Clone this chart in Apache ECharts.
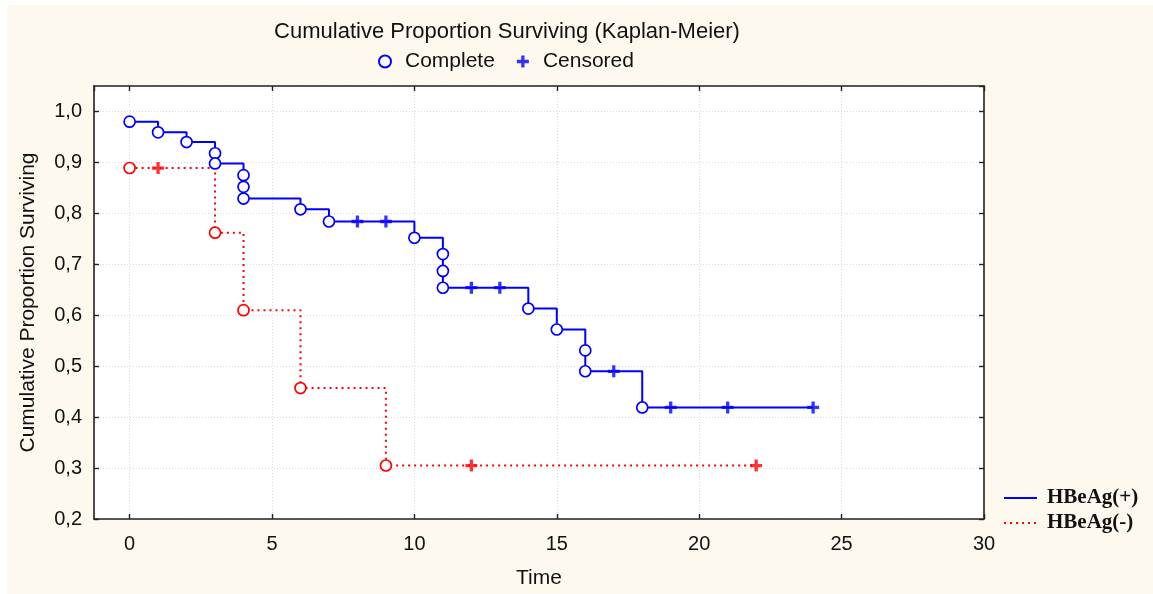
<!DOCTYPE html>
<html>
<head>
<meta charset="utf-8">
<title>Cumulative Proportion Surviving (Kaplan-Meier)</title>
<script src="https://cdn.jsdelivr.net/npm/echarts@6/dist/echarts.min.js"></script>
<style>
  html, body { margin: 0; padding: 0; background: #ffffff; width: 1153px; height: 594px; overflow: hidden; }
  #chart { position: absolute; left: 7px; top: 5px; width: 1146px; height: 589px; background: #FEF9EE; }
</style>
</head>
<body>
<div id="chart"></div>
<script>
// HBeAg(+) group: time, survival estimate, status (1 = complete, 0 = censored)
const posTime   = [0, 1, 2, 3, 3, 4, 4, 4, 6, 7, 8, 9, 10, 11, 11, 11, 12, 13, 14, 15, 16, 16, 17, 18, 19, 21, 24];
const posSurv   = [0.980, 0.959, 0.940, 0.918, 0.898, 0.875, 0.852, 0.829, 0.808, 0.784, 0.784, 0.784, 0.752,
                   0.720, 0.687, 0.654, 0.654, 0.654, 0.613, 0.572, 0.531, 0.490, 0.490, 0.419, 0.419, 0.419, 0.419];
const posStatus = [1, 1, 1, 1, 1, 1, 1, 1, 1, 1, 0, 0, 1, 1, 1, 1, 0, 0, 1, 1, 1, 1, 0, 1, 0, 0, 0];

// HBeAg(-) group
const negTime   = [0, 1, 3, 4, 6, 9, 12, 22];
const negSurv   = [0.889, 0.889, 0.762, 0.610, 0.457, 0.305, 0.305, 0.305];
const negStatus = [1, 0, 1, 1, 1, 1, 0, 0];

// Tick labels
const xTickLabels = ['0', '5', '10', '15', '20', '25', '30'];
const yTickLabels = ['0,2', '0,3', '0,4', '0,5', '0,6', '0,7', '0,8', '0,9', '1,0'];

const BLUE = '#0000FF';
const RED = '#FF0000';
const PLUS = 'path://M4,0h3v11h-3z M0,4h11v3h-11z';

function points(times, surv) {
  return times.map((t, i) => [t, surv[i]]);
}
function pick(times, surv, status, flag) {
  const out = [];
  times.forEach((t, i) => { if (status[i] === flag) out.push([t, surv[i]]); });
  return out;
}

const chart = echarts.init(document.getElementById('chart'), null, { renderer: 'canvas' });

const axisFont = { fontFamily: 'Liberation Sans, Arial, sans-serif', fontSize: 20, color: '#111' };
const frameLine = { show: true, onZero: false, lineStyle: { color: '#222', width: 1.6 } };
const innerTick = { show: true, inside: true, length: 5, lineStyle: { color: '#222', width: 1.4 } };
const gridLine = { show: true, lineStyle: { color: '#d9d9d9', type: [1, 2], width: 1 } };

const option = {
  animation: false,
  title: {
    text: 'Cumulative Proportion Surviving (Kaplan-Meier)',
    left: 500,
    top: 16,
    padding: 0,
    textAlign: 'center',
    textStyle: { fontFamily: 'Liberation Sans, Arial, sans-serif', fontSize: 22, fontWeight: 'normal', color: '#111' }
  },
  legend: [
    {
      data: ['Complete', 'Censored'],
      left: 371,
      top: 46,
      padding: 0,
      itemWidth: 20,
      itemHeight: 12,
      itemGap: 22,
      textStyle: { fontFamily: 'Liberation Sans, Arial, sans-serif', fontSize: 21, color: '#111', padding: [0, 0, 0, 5] }
    },
    {
      data: ['HBeAg(+)', 'HBeAg(-)'],
      orient: 'vertical',
      left: 996,
      top: 482,
      padding: 0,
      itemWidth: 33,
      itemHeight: 14,
      itemGap: 3,
      itemStyle: { color: 'transparent', borderColor: 'transparent', borderWidth: 0, opacity: 0 },
      textStyle: { fontFamily: 'Liberation Serif, Times New Roman, serif', fontSize: 21, fontWeight: 'bold', color: '#111', lineHeight: 22, padding: [0, 0, 0, 5] }
    }
  ],
  grid: {
    left: 87, top: 81, width: 890, height: 434,
    show: true, backgroundColor: '#ffffff', borderWidth: 0
  },
  xAxis: [
    {
      type: 'value', min: -1.25, max: 30, minInterval: 5, maxInterval: 5,
      position: 'bottom',
      name: 'Time', nameLocation: 'middle', nameGap: 49,
      nameTextStyle: { fontFamily: 'Liberation Sans, Arial, sans-serif', fontSize: 21, color: '#111' },
      axisLine: frameLine, axisTick: innerTick, splitLine: gridLine,
      axisLabel: Object.assign({ margin: 15, showMinLabel: false, showMaxLabel: true,
        formatter: v => { const k = Math.round(v / 5); return (Math.abs(v - k * 5) < 1e-6 && xTickLabels[k] !== undefined) ? xTickLabels[k] : ''; } }, axisFont)
    },
    {
      type: 'value', min: -1.25, max: 30, minInterval: 5, maxInterval: 5,
      position: 'top',
      axisLine: frameLine, axisTick: innerTick, splitLine: { show: false }, axisLabel: { show: false }
    }
  ],
  yAxis: [
    {
      type: 'value', min: 0.2, max: 1.05, interval: 0.1,
      position: 'left',
      name: 'Cumulative Proportion Surviving', nameLocation: 'middle', nameGap: 55,
      nameTextStyle: { fontFamily: 'Liberation Sans, Arial, sans-serif', fontSize: 21, color: '#111' },
      axisLine: frameLine, axisTick: innerTick, splitLine: gridLine,
      axisLabel: Object.assign({ margin: 12, showMaxLabel: false,
        formatter: v => { const k = Math.round((v - 0.2) * 10); return (Math.abs(v - (0.2 + k / 10)) < 1e-6 && yTickLabels[k] !== undefined) ? yTickLabels[k] : ''; } }, axisFont)
    },
    {
      type: 'value', min: 0.2, max: 1.05, interval: 0.1,
      position: 'right',
      axisLine: frameLine, axisTick: innerTick, splitLine: { show: false }, axisLabel: { show: false }
    }
  ],
  series: [
    {
      name: 'HBeAg(-)', type: 'line', step: 'end', symbol: 'none',
      data: points(negTime, negSurv),
      lineStyle: { color: RED, width: 2, type: [2, 4] },
      itemStyle: { color: RED }, z: 2
    },
    {
      name: 'HBeAg(+)', type: 'line', step: 'end', symbol: 'none',
      data: points(posTime, posSurv),
      lineStyle: { color: BLUE, width: 2, type: 'solid' },
      itemStyle: { color: BLUE }, z: 3
    },
    {
      name: 'Complete', type: 'scatter', symbol: 'circle', symbolSize: 11,
      data: pick(posTime, posSurv, posStatus, 1),
      itemStyle: { color: '#ffffff', borderColor: BLUE, borderWidth: 1.7, opacity: 1 }, z: 5
    },
    {
      name: 'Censored', type: 'scatter', symbol: PLUS, symbolSize: 12,
      data: pick(posTime, posSurv, posStatus, 0),
      itemStyle: { color: BLUE }, z: 5
    },
    {
      name: 'Complete', type: 'scatter', symbol: 'circle', symbolSize: 11,
      data: pick(negTime, negSurv, negStatus, 1),
      itemStyle: { color: '#ffffff', borderColor: RED, borderWidth: 1.7, opacity: 1 }, z: 4
    },
    {
      name: 'Censored', type: 'scatter', symbol: PLUS, symbolSize: 12,
      data: pick(negTime, negSurv, negStatus, 0),
      itemStyle: { color: RED }, z: 4
    }
  ]
};

chart.setOption(option);
</script>
</body>
</html>
